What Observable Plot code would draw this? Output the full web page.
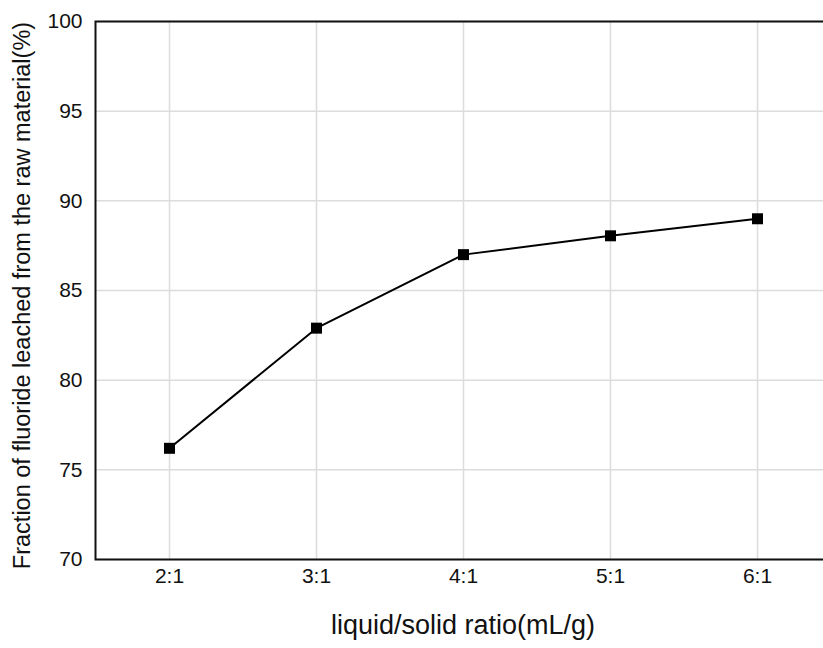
<!DOCTYPE html>
<html>
<head>
<meta charset="utf-8">
<script src="https://cdn.jsdelivr.net/npm/d3@7"></script>
<script src="https://cdn.jsdelivr.net/npm/@observablehq/plot@0.6"></script>
<style>
  html, body { margin: 0; padding: 0; background: #fff; }
  #chart svg { display: block; }
  #chart svg g[aria-label="x-axis tick label"] text,
  #chart svg g[aria-label="y-axis tick label"] text { font-size: 21px; }
</style>
</head>
<body>
<div id="chart"></div>
<script>
const ratios = ["2:1", "3:1", "4:1", "5:1", "6:1"];
const fractions = [76.2, 82.9, 87.0, 88.05, 89.0];
const yTicks = [70, 75, 80, 85, 90, 95, 100];
const xTitle = "liquid/solid ratio(mL/g)";
const yTitle = "Fraction of fluoride leached from the raw material(%)";

const data = ratios.map((r, i) => ({ratio: r, value: fractions[i]}));

const chart = Plot.plot({
  width: 823,
  height: 648,
  marginLeft: 95,
  marginRight: -7,
  marginTop: 21,
  marginBottom: 89,
  style: {fontFamily: "'Liberation Sans', Arial, sans-serif", fontSize: "21px", color: "#111", background: "#fff"},
  x: {type: "point", domain: ratios, padding: 0.5, label: null},
  y: {domain: [70, 100], label: null},
  marks: [
    Plot.gridX(ratios, {stroke: "#dcdcdc", strokeOpacity: 1, strokeWidth: 1.5}),
    Plot.gridY(yTicks, {stroke: "#dcdcdc", strokeOpacity: 1, strokeWidth: 1.5}),
    Plot.frame({stroke: "#111", strokeWidth: 2}),
    Plot.axisX(ratios, {tickSize: 0, tickPadding: 9, fontSize: 21, label: null}),
    Plot.axisY(yTicks, {tickSize: 0, tickPadding: 13, fontSize: 21, label: null}),
    Plot.line(data, {x: "ratio", y: "value", stroke: "#000", strokeWidth: 2}),
    Plot.dot(data, {x: "ratio", y: "value", symbol: "square", r: 6.2, fill: "#000", stroke: "none"}),
    Plot.text([xTitle], {frameAnchor: "bottom", textAnchor: "middle", dy: 74, fontSize: 27, fill: "#111"}),
    Plot.text([yTitle], {frameAnchor: "left", textAnchor: "middle", dx: -73, dy: 5, rotate: -90, fontSize: 23.5, fill: "#111"})
  ]
});
document.getElementById("chart").appendChild(chart);
</script>
</body>
</html>
